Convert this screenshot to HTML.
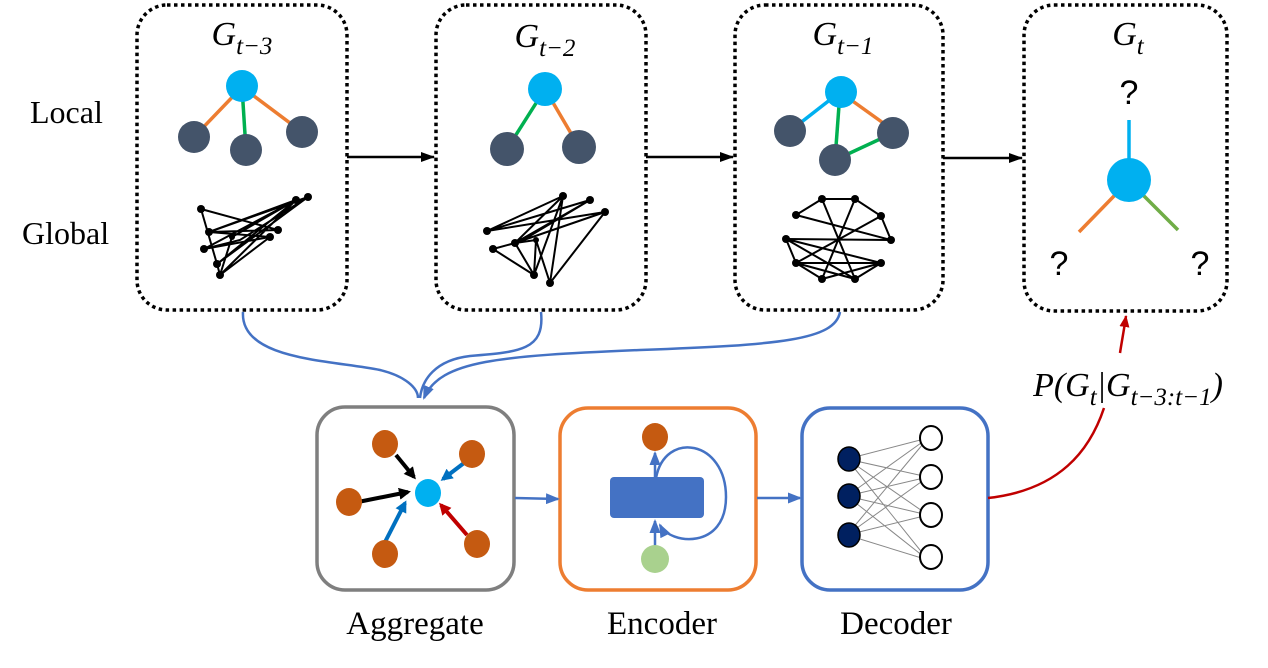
<!DOCTYPE html>
<html><head><style>
html,body{margin:0;padding:0;background:#fff;}
svg{display:block;}
.t{font-family:"Liberation Serif",serif;}
</style></head><body>
<svg width="1268" height="668" viewBox="0 0 1268 668" xmlns="http://www.w3.org/2000/svg">
<defs>
<marker id="ab" markerWidth="14" markerHeight="10" refX="13" refY="5" orient="auto" markerUnits="userSpaceOnUse"><path d="M0,0 L14,5 L0,10 Z" fill="#000"/></marker>
<marker id="abl" markerWidth="14" markerHeight="11" refX="12" refY="5.5" orient="auto" markerUnits="userSpaceOnUse"><path d="M0,0 L14,5.5 L0,11 Z" fill="#4472C4"/></marker>
<marker id="ar" markerWidth="12" markerHeight="10" refX="11" refY="5" orient="auto" markerUnits="userSpaceOnUse"><path d="M0,0 L12,5 L0,10 Z" fill="#C00000"/></marker>
<marker id="ak" markerWidth="12" markerHeight="12" refX="9" refY="6" orient="auto" markerUnits="userSpaceOnUse"><path d="M0,0 L12,6 L0,12 Z" fill="#000"/></marker>
<marker id="ac" markerWidth="12" markerHeight="12" refX="9" refY="6" orient="auto" markerUnits="userSpaceOnUse"><path d="M0,0 L12,6 L0,12 Z" fill="#0070C0"/></marker>
<marker id="ad" markerWidth="12" markerHeight="12" refX="9" refY="6" orient="auto" markerUnits="userSpaceOnUse"><path d="M0,0 L12,6 L0,12 Z" fill="#C00000"/></marker>
</defs>
<g fill="none" stroke="#000" stroke-width="3.5" stroke-dasharray="3.5 3.5">
<rect x="137" y="5" width="210" height="305" rx="30"/>
<rect x="436" y="5" width="210" height="305" rx="30"/>
<rect x="735" y="5" width="208" height="305" rx="30"/>
<rect x="1024" y="5" width="203" height="306" rx="30"/>
</g>
<g class="t" font-style="italic" font-size="34" text-anchor="middle" fill="#000">
<text x="242" y="45">G<tspan font-size="25" dy="9">t−3</tspan></text>
<text x="545" y="47">G<tspan font-size="25" dy="9">t−2</tspan></text>
<text x="843" y="45">G<tspan font-size="25" dy="9">t−1</tspan></text>
<text x="1128" y="45">G<tspan font-size="25" dy="9">t</tspan></text>
</g>
<text class="t" x="30" y="123" font-size="32">Local</text>
<text class="t" x="22" y="244" font-size="32">Global</text>
<g stroke="#000" stroke-width="2.5">
<line x1="347" y1="157" x2="434" y2="157" marker-end="url(#ab)"/>
<line x1="646" y1="157" x2="733" y2="157" marker-end="url(#ab)"/>
<line x1="943" y1="158" x2="1022" y2="158" marker-end="url(#ab)"/>
</g>
<g stroke-width="3.5">
<line x1="242" y1="87" x2="194" y2="137" stroke="#ED7D31"/>
<line x1="242" y1="87" x2="302" y2="132" stroke="#ED7D31"/>
<line x1="242" y1="87" x2="246" y2="150" stroke="#00B050"/>
</g>
<circle cx="242" cy="86" r="16" fill="#00B0F0"/>
<circle cx="194" cy="137" r="16" fill="#44546A"/>
<circle cx="246" cy="150" r="16" fill="#44546A"/>
<circle cx="302" cy="132" r="16" fill="#44546A"/>
<g stroke="#000" stroke-width="2" fill="none">
<path d="M201,209 L278,230 M201,209 L217,264 M209,232 L296,200 M209,232 L308,197 M204,249 L296,200 M204,249 L270,237 M217,264 L308,197 M217,264 L296,200 M220,275 L270,237 M220,275 L296,200 M220,275 L232,237 M209,232 L278,230 M217,264 L220,275 M204,249 L240,240 L308,197 M232,237 L296,200 M209,232 L270,237"/>
</g>
<g fill="#000"><circle cx="201" cy="209" r="4"/><circle cx="296" cy="200" r="4"/><circle cx="308" cy="197" r="4"/><circle cx="209" cy="232" r="4"/><circle cx="204" cy="249" r="4"/><circle cx="270" cy="237" r="4"/><circle cx="278" cy="230" r="4"/><circle cx="217" cy="264" r="4"/><circle cx="220" cy="275" r="4"/><circle cx="232" cy="237" r="3"/></g>
<g stroke-width="3.5">
<line x1="545" y1="89" x2="507" y2="149" stroke="#00B050"/>
<line x1="545" y1="89" x2="579" y2="147" stroke="#ED7D31"/>
</g>
<circle cx="545" cy="89" r="17" fill="#00B0F0"/>
<circle cx="507" cy="149" r="17" fill="#44546A"/>
<circle cx="579" cy="147" r="17" fill="#44546A"/>
<g stroke="#000" stroke-width="2" fill="none">
<path d="M487,231 L563,196 M487,231 L590,200 M487,231 L605,212 M493,249 L515,243 L563,196 M515,243 L590,200 M515,243 L605,212 M493,249 L534,275 M515,243 L534,275 M536,240 L534,275 M536,240 L550,283 M563,196 L550,283 M605,212 L550,283 M523,240 L590,200 M515,243 L536,240 M563,196 L534,275"/>
</g>
<g fill="#000"><circle cx="563" cy="196" r="4"/><circle cx="590" cy="200" r="4"/><circle cx="605" cy="212" r="4"/><circle cx="487" cy="231" r="4"/><circle cx="493" cy="249" r="4"/><circle cx="515" cy="243" r="4"/><circle cx="534" cy="275" r="4"/><circle cx="550" cy="283" r="4"/><circle cx="536" cy="240" r="3"/></g>
<g stroke-width="3.5">
<line x1="840" y1="92" x2="790" y2="131" stroke="#00B0F0"/>
<line x1="840" y1="92" x2="893" y2="130" stroke="#ED7D31"/>
<line x1="840" y1="92" x2="835" y2="160" stroke="#00B050"/>
<line x1="835" y1="160" x2="893" y2="133" stroke="#00B050"/>
</g>
<circle cx="841" cy="92" r="16" fill="#00B0F0"/>
<circle cx="790" cy="131" r="16" fill="#44546A"/>
<circle cx="893" cy="133" r="16" fill="#44546A"/>
<circle cx="835" cy="160" r="16" fill="#44546A"/>
<g stroke="#000" stroke-width="2" fill="none">
<path d="M822,199 L855,199 L881,216 L891,240 M822,199 L796,215 M786,239 L796,263 L822,279 M881,263 L855,279 M796,263 L881,263 M786,239 L891,240 M822,199 L855,279 M855,199 L822,279 M796,215 L891,240 M881,216 L796,263 M786,239 L881,263 M786,239 L855,279 M796,263 L855,279 M881,263 L822,279"/>
</g>
<g fill="#000"><circle cx="822" cy="199" r="4"/><circle cx="855" cy="199" r="4"/><circle cx="796" cy="215" r="4"/><circle cx="881" cy="216" r="4"/><circle cx="786" cy="239" r="4"/><circle cx="891" cy="240" r="4"/><circle cx="796" cy="263" r="4"/><circle cx="881" cy="263" r="4"/><circle cx="822" cy="279" r="4"/><circle cx="855" cy="279" r="4"/></g>
<g stroke-width="3.5">
<line x1="1129" y1="120" x2="1129" y2="160" stroke="#00B0F0"/>
<line x1="1115" y1="195" x2="1079" y2="232" stroke="#ED7D31"/>
<line x1="1143" y1="195" x2="1178" y2="230" stroke="#70AD47"/>
</g>
<circle cx="1129" cy="180" r="22" fill="#00B0F0"/>
<g font-family="Liberation Sans,sans-serif" font-size="34" text-anchor="middle" fill="#000">
<text x="1129" y="104">?</text><text x="1059" y="275">?</text><text x="1200" y="275">?</text>
</g>
<g fill="none" stroke="#4472C4" stroke-width="2.5">
<path d="M243,312 C240,360 330,360 380,370 C405,376 418,388 418,398"/>
<path d="M541,312 C545,350 520,352 470,356 C435,360 422,380 420,398"/>
<path d="M840,312 C835,340 780,345 640,350 C500,356 440,360 424,398" marker-end="url(#abl)"/>
</g>
<rect x="317" y="407" width="197" height="183" rx="28" fill="none" stroke="#7F7F7F" stroke-width="3.5"/>
<rect x="560" y="408" width="196" height="182" rx="28" fill="none" stroke="#ED7D31" stroke-width="3.5"/>
<rect x="802" y="408" width="186" height="182" rx="28" fill="none" stroke="#4472C4" stroke-width="3.5"/>
<g class="t" font-size="33" text-anchor="middle" fill="#000">
<text x="415" y="634">Aggregate</text><text x="662" y="634">Encoder</text><text x="896" y="634">Decoder</text>
</g>
<g stroke="#4472C4" stroke-width="2.5">
<line x1="515" y1="498" x2="558" y2="499" marker-end="url(#abl)"/>
<line x1="757" y1="498" x2="800" y2="498" marker-end="url(#abl)"/>
</g>
<g stroke-width="4">
<line x1="396" y1="455" x2="414" y2="477" stroke="#000" marker-end="url(#ak)"/>
<line x1="353" y1="503" x2="408" y2="492" stroke="#000" marker-end="url(#ak)"/>
<line x1="464" y1="463" x2="443" y2="479" stroke="#0070C0" marker-end="url(#ac)"/>
<line x1="384" y1="544" x2="405" y2="503" stroke="#0070C0" marker-end="url(#ac)"/>
<line x1="467" y1="535" x2="441" y2="505" stroke="#C00000" marker-end="url(#ad)"/>
</g>
<g fill="#C55A11">
<ellipse cx="385" cy="444" rx="13" ry="14"/><ellipse cx="472" cy="454" rx="13" ry="14"/><ellipse cx="349" cy="502" rx="13" ry="14"/><ellipse cx="385" cy="554" rx="13" ry="14"/><ellipse cx="477" cy="544" rx="13" ry="14"/>
</g>
<ellipse cx="428" cy="493" rx="13" ry="14" fill="#00B0F0"/>
<path d="M656,478 C665,430 726,440 726,497 C726,550 670,545 660,525" fill="none" stroke="#4472C4" stroke-width="2.5" marker-end="url(#abl)"/>
<line x1="655" y1="546" x2="655" y2="521" stroke="#4472C4" stroke-width="2.5" marker-end="url(#abl)"/>
<line x1="655" y1="478" x2="655" y2="453" stroke="#4472C4" stroke-width="2.5" marker-end="url(#abl)"/>
<rect x="610" y="477" width="94" height="41" rx="4" fill="#4472C4"/>
<ellipse cx="655" cy="437" rx="13" ry="14" fill="#C55A11"/>
<ellipse cx="655" cy="559" rx="14" ry="14" fill="#A9D18E"/>
<g stroke="#888" stroke-width="1" fill="none">
<path d="M847,459 L928,438 M847,459 L928,477 M847,459 L928,515 M847,459 L928,560 M847,496 L928,438 M847,496 L928,477 M847,496 L928,515 M847,496 L928,560 M847,535 L928,438 M847,535 L928,477 M847,535 L928,515 M847,535 L928,560"/>
</g>
<g fill="#002060" stroke="#000" stroke-width="1.5"><ellipse cx="849" cy="459" rx="11" ry="12"/><ellipse cx="849" cy="496" rx="11" ry="12"/><ellipse cx="849" cy="535" rx="11" ry="12"/></g>
<g fill="#fff" stroke="#000" stroke-width="2"><ellipse cx="931" cy="438" rx="11" ry="12"/><ellipse cx="931" cy="477" rx="11" ry="12"/><ellipse cx="931" cy="515" rx="11" ry="12"/><ellipse cx="931" cy="557" rx="11" ry="12"/></g>
<path d="M988,498 C1060,490 1090,450 1104,408" fill="none" stroke="#C00000" stroke-width="2.5"/>
<path d="M1120,353 C1122,340 1124,330 1126,316" fill="none" stroke="#C00000" stroke-width="2.5" marker-end="url(#ar)"/>
<text class="t" x="1128" y="396" font-size="34" font-style="italic" text-anchor="middle">P(G<tspan font-size="25" dy="9">t</tspan><tspan dy="-9">|G</tspan><tspan font-size="25" dy="9">t−3:t−1</tspan><tspan dy="-9">)</tspan></text>
</svg>
</body></html>
